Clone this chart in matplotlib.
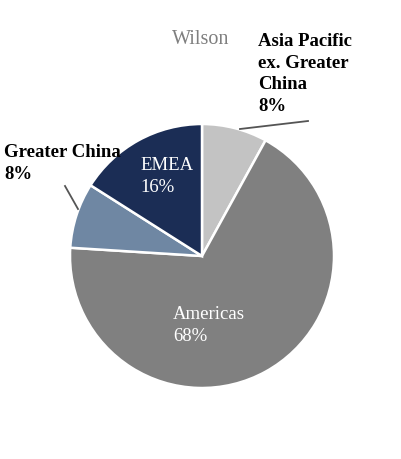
import matplotlib.pyplot as plt

# Wilson revenue by region
regions = ["Asia Pacific\nex. Greater\nChina", "Americas", "Greater China", "EMEA"]
shares = [8, 68, 8, 16]
colors = ["#c3c3c3", "#808080", "#6f87a3", "#1b2d55"]

plt.rcParams['font.family'] = ['Liberation Serif', 'DejaVu Serif']

W, H = 402, 460
fig = plt.figure(figsize=(W / 100, H / 100), dpi=100)
ax = fig.add_axes([0, 0, 1, 1])

cx, cy, r = 202, H - 257, 132
ax.pie(shares, colors=colors, startangle=90, counterclock=False,
       center=(cx, cy), radius=r,
       wedgeprops=dict(edgecolor='white', linewidth=1.8))
ax.set_xlim(0, W)
ax.set_ylim(0, H)
ax.set_aspect('equal')
ax.axis('off')

# title
ax.text(172, H - 40, "Wilson", color="#7f7f7f", fontsize=14.5,
        ha='left', va='center')

# outside labels (bold, black) with leader lines
ax.text(258, H - 33, f"{regions[0]}\n{shares[0]}%", fontsize=13.5,
        fontweight='bold', ha='left', va='top', linespacing=1.36)
ax.plot([240, 308], [H - 130, H - 122], color="#555555", lw=1.3)

ax.text(4, H - 144, f"{regions[2]}\n{shares[2]}%", fontsize=13.5,
        fontweight='bold', ha='left', va='top', linespacing=1.36)
ax.plot([78, 65], [H - 210, H - 187], color="#555555", lw=1.3)

# inside labels (white)
ax.text(140, H - 157, f"{regions[3]}\n{shares[3]}%", fontsize=13.5,
        color='white', ha='left', va='top', linespacing=1.36)
ax.text(173, H - 306, f"{regions[1]}\n{shares[1]}%", fontsize=13.5,
        color='white', ha='left', va='top', linespacing=1.36)

fig.savefig("out.png", dpi=100)
